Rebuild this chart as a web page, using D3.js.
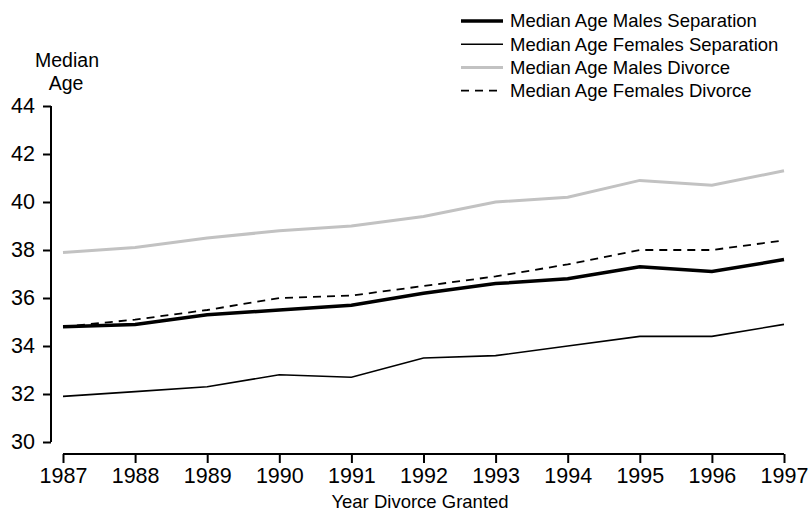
<!DOCTYPE html>
<meta charset="utf-8">
<script src="https://d3js.org/d3.v7.min.js"></script>
<style>
body { margin: 0; background: #fff; }
text { font-family: "Liberation Sans", Arial, sans-serif; fill: #000; }
</style>
<div id="chart"></div>
<script>
// data
var years = [1987, 1988, 1989, 1990, 1991, 1992, 1993, 1994, 1995, 1996, 1997];
var malesSeparation   = [34.8, 34.9, 35.3, 35.5, 35.7, 36.2, 36.6, 36.8, 37.3, 37.1, 37.6];
var femalesSeparation = [31.9, 32.1, 32.3, 32.8, 32.7, 33.5, 33.6, 34.0, 34.4, 34.4, 34.9];
var malesDivorce      = [37.9, 38.1, 38.5, 38.8, 39.0, 39.4, 40.0, 40.2, 40.9, 40.7, 41.3];
var femalesDivorce    = [34.8, 35.1, 35.5, 36.0, 36.1, 36.5, 36.9, 37.4, 38.0, 38.0, 38.4];
var yTicks = [30, 32, 34, 36, 38, 40, 42, 44];

var series = [
  {name: "Median Age Males Separation", values: malesSeparation, color: "#000", width: 3.5, dash: null},
  {name: "Median Age Females Separation", values: femalesSeparation, color: "#000", width: 1.6, dash: null},
  {name: "Median Age Males Divorce", values: malesDivorce, color: "#c2c2c2", width: 3, dash: null},
  {name: "Median Age Females Divorce", values: femalesDivorce, color: "#000", width: 1.8, dash: "8,6"}
];

var W = 810, H = 513;
var svg = d3.select("#chart").append("svg").attr("width", W).attr("height", H);

var x = d3.scaleLinear().domain([1987, 1997]).range([63, 784]);
var y = d3.scaleLinear().domain([30, 44]).range([442, 106]);

// y axis
var yAxis = svg.append("g")
    .attr("transform", "translate(51,0)")
    .call(d3.axisLeft(y).tickValues(yTicks).tickSize(8).tickPadding(8));
yAxis.selectAll("path, line").attr("stroke", "#000").attr("stroke-width", 2);
yAxis.select(".domain").attr("d", "M0," + y(44) + "V" + y(30));
yAxis.selectAll("text").style("font-size", "21.5px").attr("font-family", null);

// x axis
var xAxis = svg.append("g")
    .attr("transform", "translate(0,454)")
    .call(d3.axisBottom(x).tickValues(years).tickFormat(d3.format("d")).tickSize(9).tickPadding(5));
xAxis.selectAll("path, line").attr("stroke", "#000").attr("stroke-width", 2);
xAxis.select(".domain").attr("d", "M" + x(1987) + ",0H" + x(1997));
xAxis.selectAll("text").style("font-size", "21.5px").attr("font-family", null);

// axis titles
svg.append("text").attr("x", 67).attr("y", 67).attr("text-anchor", "middle")
   .style("font-size", "19.5px").text("Median");
svg.append("text").attr("x", 66).attr("y", 90).attr("text-anchor", "middle")
   .style("font-size", "19.5px").text("Age");
svg.append("text").attr("x", 420).attr("y", 508).attr("text-anchor", "middle")
   .style("font-size", "18.5px").text("Year Divorce Granted");

// lines (draw grey first so black sits over it)
var line = d3.line().x(function(d, i) { return x(years[i]); }).y(function(d) { return y(d); });
var order = [2, 3, 1, 0];
order.forEach(function(k) {
  var s = series[k];
  svg.append("path")
    .attr("d", line(s.values))
    .attr("fill", "none")
    .attr("stroke", s.color)
    .attr("stroke-width", s.width)
    .attr("stroke-dasharray", s.dash);
});

// legend
var legend = svg.append("g");
series.forEach(function(s, i) {
  var ly = 21 + i * 23.2;
  legend.append("line")
    .attr("x1", 461).attr("x2", 503).attr("y1", ly).attr("y2", ly)
    .attr("stroke", s.color).attr("stroke-width", s.width)
    .attr("stroke-dasharray", s.dash);
  legend.append("text")
    .attr("x", 510).attr("y", ly).attr("dy", "0.35em")
    .style("font-size", "18.5px").text(s.name);
});
</script>
